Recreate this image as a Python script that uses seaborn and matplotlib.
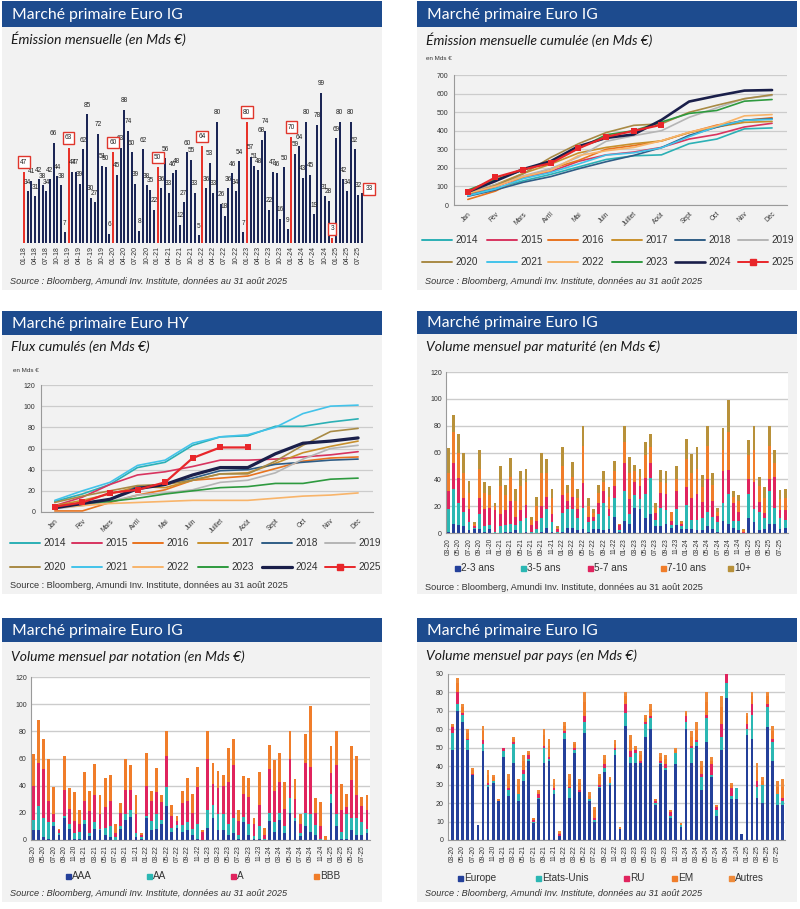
import numpy as np
import pandas as pd
import matplotlib
matplotlib.use("Agg")
import matplotlib.pyplot as plt
import seaborn as sns
from matplotlib.patches import Rectangle
from matplotlib.lines import Line2D

# ---------------- DATA ----------------
# Panel 1 : monthly Euro IG issuance Jan-2018 .. Aug-2025
ig_monthly = [47, 34, 41, 31, 42, 38, 34, 42, 66, 44, 38, 7,
              63, 47, 47, 39, 62, 85, 30, 27, 72, 51, 50, 6,
              60, 45, 63, 88, 74, 60, 39, 8, 62, 38, 35, 22,
              50, 36, 56, 33, 46, 48, 12, 27, 60, 55, 33, 5,
              64, 36, 53, 33, 80, 26, 18, 36, 46, 34, 54, 7,
              80, 57, 51, 48, 68, 74, 22, 47, 46, 16, 50, 9,
              70, 59, 64, 43, 80, 45, 19, 78, 99, 31, 28, 3,
              69, 80, 42, 34, 80, 62, 32, 33]
red_idx = [0, 12, 24, 36, 48, 60, 72, 83]
boxed_idx = [0, 12, 24, 36, 48, 60, 72, 83, 91]
p1_ticklabels = ['01-18', '04-18', '07-18', '10-18', '01-19', '04-19', '07-19', '10-19',
                 '01-20', '04-20', '07-20', '10-20', '01-21', '04-21', '07-21', '10-21',
                 '01-22', '04-22', '07-22', '10-22', '01-23', '04-23', '07-23', '10-23',
                 '01-24', '04-24', '07-24', '10-24', '01-25', '04-25', '07-25']

months_fr = ['Jan', 'Fév', 'Mars', 'Avril', 'Mai', 'Juin', 'Juillet', 'Août', 'Sept', 'Oct', 'Nov', 'Déc']
years = ['2014', '2015', '2016', '2017', '2018', '2019', '2020', '2021', '2022', '2023', '2024', '2025']

# Panel 2 : cumulated IG issuance
ig_cum = {
    '2014': [55, 90, 130, 165, 205, 245, 265, 270, 330, 355, 410, 415],
    '2015': [60, 100, 150, 180, 235, 270, 285, 310, 355, 380, 420, 440],
    '2016': [30, 75, 150, 195, 240, 300, 320, 345, 390, 430, 455, 470],
    '2017': [65, 110, 170, 220, 280, 310, 330, 345, 390, 420, 445, 450],
    '2018': [47, 81, 122, 153, 195, 233, 267, 309, 375, 419, 457, 464],
    '2019': [63, 110, 157, 196, 258, 343, 373, 400, 472, 523, 573, 590],
    '2020': [60, 105, 168, 256, 330, 390, 429, 437, 499, 537, 572, 594],
    '2021': [50, 86, 142, 175, 221, 269, 281, 308, 368, 423, 456, 461],
    '2022': [64, 100, 153, 186, 266, 292, 310, 346, 392, 426, 480, 487],
    '2023': [80, 137, 188, 236, 304, 378, 400, 447, 493, 509, 559, 568],
    '2024': [70, 129, 193, 236, 316, 361, 380, 458, 557, 588, 616, 619],
    '2025': [69, 149, 191, 225, 305, 367, 399, 432],
}

# Panel 3 : cumulated HY flows
hy_cum = {
    '2014': [10, 17, 26, 42, 47, 63, 71, 72, 81, 81, 85, 88],
    '2015': [6, 14, 26, 35, 38, 43, 49, 49, 50, 52, 54, 57],
    '2016': [1, 1, 9, 16, 21, 30, 32, 34, 41, 48, 51, 52],
    '2017': [6, 11, 17, 24, 23, 30, 36, 37, 46, 56, 62, 67],
    '2018': [4, 8, 12, 24, 26, 32, 39, 40, 45, 47, 49, 50],
    '2019': [3, 6, 10, 16, 18, 21, 28, 30, 37, 50, 60, 63],
    '2020': [9, 15, 20, 25, 26, 30, 36, 36, 48, 63, 76, 79],
    '2021': [11, 20, 28, 44, 49, 65, 71, 73, 80, 93, 100, 101],
    '2022': [4, 6, 8, 9, 10, 11, 11, 11, 13, 15, 16, 18],
    '2023': [5, 8, 10, 13, 17, 20, 23, 24, 27, 27, 31, 32],
    '2024': [4, 8, 12, 22, 26, 35, 42, 42, 55, 65, 67, 70],
    '2025': [5, 9, 18, 21, 28, 51, 61, 61],
}

p456_ticklabels = ['03-20', '05-20', '07-20', '09-20', '11-20',
                   '01-21', '03-21', '05-21', '07-21', '09-21', '11-21',
                   '01-22', '03-22', '05-22', '07-22', '09-22', '11-22',
                   '01-23', '03-23', '05-23', '07-23', '09-23', '11-23',
                   '01-24', '03-24', '05-24', '07-24', '09-24', '11-24',
                   '01-25', '03-25', '05-25', '07-25']

# Panel 4 : by maturity (Mar-2020 .. Aug-2025)
mat_2_3 = [1, 7, 6, 5, 2, 3, 3, 1, 3, 0, 0, 1, 1, 2, 0, 1, 0, 0, 1, 4, 1, 0,
           1, 4, 4, 2, 3, 1, 3, 3, 2, 3, 12, 1, 9, 7, 19, 18, 11, 14, 5, 5, 7, 4, 6, 3,
           3, 3, 2, 2, 5, 3, 1, 9, 7, 4, 2, 0, 11, 8, 2, 3, 7, 7, 3, 4]
mat_3_5 = [17, 26, 16, 11, 6, 1, 11, 4, 3, 1, 5, 5, 6, 4, 9, 10, 1, 3, 10, 14, 7, 1,
           14, 14, 14, 9, 16, 7, 6, 11, 20, 10, 14, 1, 22, 7, 9, 7, 18, 27, 5, 14, 10, 2, 12, 2,
           18, 7, 8, 9, 11, 9, 7, 13, 22, 5, 7, 0, 18, 10, 14, 8, 24, 12, 8, 6]
mat_5_7 = [13, 19, 19, 10, 10, 1, 12, 13, 13, 16, 9, 11, 17, 6, 8, 10, 5, 6, 9, 9, 6, 2,
           13, 6, 9, 7, 18, 4, 3, 8, 9, 5, 9, 4, 21, 11, 10, 10, 12, 11, 5, 11, 12, 3, 13, 2,
           13, 16, 19, 12, 24, 12, 5, 24, 18, 13, 7, 1, 11, 20, 7, 4, 9, 23, 6, 7]
mat_7_10 = [14, 23, 19, 19, 12, 2, 22, 12, 9, 3, 21, 11, 18, 12, 18, 17, 4, 11, 25, 18, 12, 1,
            22, 6, 15, 8, 28, 8, 3, 8, 7, 9, 11, 1, 16, 20, 8, 7, 17, 12, 4, 8, 8, 7, 9, 1,
            21, 19, 19, 11, 25, 12, 3, 16, 28, 5, 8, 1, 18, 24, 12, 11, 25, 10, 8, 9]
mat_10p = [18, 13, 14, 15, 9, 1, 14, 8, 7, 2, 15, 8, 14, 9, 11, 10, 2, 7, 15, 10, 7, 1,
           14, 6, 11, 7, 15, 6, 3, 6, 8, 7, 8, 0, 12, 12, 5, 6, 10, 10, 3, 9, 9, 0, 10, 1,
           15, 14, 16, 9, 15, 9, 3, 16, 24, 4, 4, 1, 11, 18, 7, 8, 15, 10, 7, 7]

# Panel 5 : by rating
rt_aaa = [7, 7, 2, 1, 10, 4, 16, 8, 1, 1, 12, 3, 8, 7, 4, 2, 0, 8, 15, 17, 2, 1,
          16, 7, 8, 12, 25, 6, 9, 6, 7, 4, 1, 0, 9, 16, 7, 7, 4, 5, 1, 13, 4, 1, 1, 0,
          14, 6, 15, 5, 20, 14, 3, 10, 6, 4, 0, 0, 27, 10, 1, 1, 7, 4, 4, 5]
rt_aa = [8, 18, 14, 12, 3, 1, 2, 4, 4, 5, 3, 2, 5, 1, 5, 8, 2, 2, 4, 5, 3, 1,
         2, 7, 11, 3, 14, 3, 2, 5, 6, 4, 11, 0, 13, 10, 12, 12, 8, 11, 3, 4, 8, 2, 9, 1,
         6, 7, 5, 5, 11, 2, 2, 10, 13, 7, 1, 0, 7, 9, 5, 18, 9, 12, 9, 3]
rt_a = [25, 32, 36, 16, 6, 2, 19, 11, 9, 6, 14, 16, 20, 11, 15, 19, 3, 10, 18, 15, 14, 2,
        22, 15, 16, 13, 23, 9, 3, 16, 16, 12, 27, 6, 38, 15, 19, 21, 31, 39, 10, 17, 20, 9, 16, 3,
        32, 23, 23, 13, 29, 14, 7, 37, 35, 9, 9, 0, 15, 36, 16, 5, 28, 17, 12, 14]
rt_bbb = [23, 31, 22, 31, 20, 1, 25, 15, 21, 10, 21, 15, 23, 14, 22, 19, 7, 7, 23, 18, 14, 1,
          24, 7, 18, 5, 18, 8, 4, 9, 17, 14, 15, 1, 20, 16, 13, 8, 25, 19, 8, 13, 14, 4, 24, 5,
          18, 23, 21, 20, 20, 15, 7, 21, 45, 11, 18, 3, 20, 25, 19, 10, 25, 29, 7, 11]

# Panel 6 : by country
ct_europe = [49, 70, 64, 49, 35, 8, 48, 29, 31, 21, 45, 24, 42, 21, 32, 43, 9, 22, 42, 43, 25, 2,
             55, 23, 47, 26, 58, 21, 10, 28, 37, 30, 46, 6, 62, 42, 42, 42, 56, 60, 19, 41, 38, 12, 41, 7,
             60, 42, 51, 27, 53, 34, 13, 49, 77, 22, 22, 3, 57, 55, 23, 20, 61, 43, 19, 19]
ct_us = [9, 4, 4, 5, 0, 0, 4, 1, 1, 0, 3, 3, 10, 4, 4, 1, 1, 1, 8, 1, 2, 0,
         3, 5, 2, 0, 6, 1, 1, 1, 2, 1, 3, 0, 7, 3, 5, 0, 7, 6, 1, 1, 1, 1, 6, 1,
         4, 8, 2, 7, 13, 1, 3, 7, 8, 2, 6, 0, 3, 13, 6, 10, 11, 10, 6, 2]
ct_ru = [3, 6, 1, 1, 1, 0, 2, 1, 0, 0, 2, 1, 1, 0, 2, 2, 1, 2, 1, 1, 1, 1,
         1, 1, 1, 1, 3, 0, 1, 1, 2, 0, 1, 0, 5, 3, 2, 1, 1, 1, 1, 1, 2, 2, 0, 0,
         3, 1, 1, 2, 2, 6, 2, 7, 5, 4, 0, 0, 3, 6, 3, 0, 2, 2, 0, 2]
ct_em = [1, 5, 3, 3, 2, 0, 5, 4, 2, 1, 0, 5, 2, 5, 5, 1, 1, 1, 6, 6, 3, 1,
         3, 4, 2, 4, 8, 2, 4, 4, 3, 2, 2, 1, 4, 6, 1, 3, 2, 4, 1, 2, 3, 1, 2, 1,
         2, 5, 6, 4, 7, 2, 1, 9, 5, 2, 0, 0, 4, 4, 6, 2, 4, 4, 4, 6]
ct_autres = [1, 3, 2, 2, 1, 0, 3, 3, 1, 0, 0, 3, 1, 3, 3, 1, 0, 1, 3, 4, 2, 1,
             2, 3, 1, 2, 5, 2, 2, 2, 2, 1, 2, 0, 2, 3, 1, 2, 2, 3, 0, 2, 2, 0, 1, 0,
             1, 3, 4, 3, 5, 2, 0, 6, 4, 1, 0, 0, 2, 2, 4, 2, 2, 3, 3, 4]

# ---------------- STYLE ----------------
sns.set_theme(style="white")
plt.rcParams['font.family'] = ['Liberation Sans', 'DejaVu Sans']

HEADER = '#1d4b8e'
PANEL = '#f2f2f2'
NAVY = '#1c2655'
RED = '#e8332a'
GRID = '#cccccc'
AXC = '#9a9a9a'
TXT = '#333333'
year_colors = {'2014': '#2bb0b5', '2015': '#d8345f', '2016': '#e8731f', '2017': '#c8902c',
               '2018': '#2f5d86', '2019': '#b5b5b5', '2020': '#a88a45', '2021': '#43c3ea',
               '2022': '#f8b46a', '2023': '#2e9a3f', '2024': '#1a1f4a', '2025': '#e8262a'}

W, H = 800, 909
fig = plt.figure(figsize=(8, 9.09), dpi=100)
fig.patch.set_facecolor('white')


def fx(x):
    return x / W


def fy(y):
    return 1 - y / H


def rect(x0, y0, x1, y1, color):
    fig.add_artist(Rectangle((fx(x0), fy(y1)), (x1 - x0) / W, (y1 - y0) / H,
                             transform=fig.transFigure, facecolor=color,
                             edgecolor='none', zorder=-5))


def axes(x0, y0, x1, y1):
    return fig.add_axes([fx(x0), fy(y1), (x1 - x0) / W, (y1 - y0) / H])


def text(x, y, s, **kw):
    fig.text(fx(x), fy(y), s, **kw)


def panel(x0, hy0, hy1, y1, header, title, title_y, source_y, src_italic=True):
    x1 = x0 + 380
    rect(x0, hy0, x1, hy1, HEADER)
    rect(x0, hy1, x1, y1, PANEL)
    text(x0 + 10, (hy0 + hy1) / 2 + 1, header, color='white', fontsize=11.3,
         family=['Lato', 'DejaVu Sans'], va='center', ha='left')
    text(x0 + 9, title_y, title, color='#1a1a1a', fontsize=10, style='italic',
         family=['Lato', 'DejaVu Sans'], va='center', ha='left')
    text(x0 + 8, source_y, 'Source : Bloomberg, Amundi Inv. Institute, données au 31 août 2025',
         color=TXT, fontsize=6.55, style='italic' if src_italic else 'normal',
         va='center', ha='left')


panel(2, 1, 27, 290, 'Marché primaire Euro IG', 'Émission mensuelle (en Mds €)', 39, 282)
panel(417, 1, 27, 290, 'Marché primaire Euro IG', 'Émission mensuelle cumulée (en Mds €)', 40, 281)
panel(2, 311, 335, 594, 'Marché primaire Euro HY', 'Flux cumulés (en Mds €)', 347, 586, False)
panel(417, 311, 334, 594, 'Marché primaire Euro IG', 'Volume mensuel par maturité (en Mds €)', 347, 587, False)
panel(2, 618, 642, 902, 'Marché primaire Euro IG', 'Volume mensuel par notation (en Mds €)', 657, 893)
panel(417, 618, 642, 902, 'Marché primaire Euro IG', 'Volume mensuel par pays (en Mds €)', 656, 893)

# ---------------- PANEL 1 ----------------
ax1 = axes(14, 60, 372, 243)
ax1.set_facecolor('none')
n1 = len(ig_monthly)
df1 = pd.DataFrame({'i': list(range(n1)), 'v': ig_monthly,
                    'h': ['r' if i in red_idx else 'n' for i in range(n1)]})
sns.barplot(data=df1, x='i', y='v', hue='h', palette={'n': NAVY, 'r': RED}, dodge=False,
            width=0.55, saturation=1, legend=False, ax=ax1, linewidth=0)
ax1.set_xlim(-2.69, 93.69)
ax1.set_ylim(0, 120.8)
for i, v in enumerate(ig_monthly):
    kw = dict(ha='center', va='center', fontsize=4.7, color='#222222', textcoords='offset points')
    if i in boxed_idx:
        off = (5, 3) if i == n1 - 1 else (0, 7)
        ax1.annotate(str(v), (i, v), xytext=off, zorder=5,
                     bbox=dict(boxstyle='square,pad=0.35', fc='white', ec='#e0362c', lw=1.0), **kw)
    else:
        ax1.annotate(str(v), (i, v), xytext=(0, 6.5), **kw)
ax1.set_xticks(list(range(0, n1, 3)))
ax1.set_xticklabels(p1_ticklabels, rotation=90, fontsize=5, color=TXT)
ax1.set_yticks([])
ax1.set_xlabel('')
ax1.set_ylabel('')
ax1.tick_params(axis='x', length=0, pad=2)
for s in ax1.spines.values():
    s.set_visible(False)


# ---------------- LINE PANELS ----------------
def line_panel(ax, data, ymax, ystep, lw24):
    ax.set_facecolor('none')
    for y in years:
        vals = data[y]
        lw = 1.2
        if y == '2024':
            lw = lw24
        kw = {}
        if y == '2025':
            lw = 1.6
            kw = dict(marker='s', markersize=4.5, markeredgewidth=0)
        sns.lineplot(x=list(range(len(vals))), y=vals, color=year_colors[y], linewidth=lw,
                     ax=ax, **kw)
    ax.set_xlim(-0.47, 11.54)
    ax.set_ylim(0, ymax)
    ax.set_yticks(np.arange(0, ymax + 1, ystep))
    ax.set_yticklabels([str(int(t)) for t in np.arange(0, ymax + 1, ystep)], fontsize=5, color=TXT)
    ax.set_xticks(list(range(12)))
    ax.set_xticklabels(months_fr, rotation=45, ha='right', rotation_mode='anchor',
                       fontsize=4.8, color=TXT)
    ax.set_xticks(np.arange(-0.5, 12, 1), minor=True)
    ax.tick_params(axis='x', which='major', length=0, pad=4)
    ax.tick_params(axis='x', which='minor', length=3, color=AXC, width=0.6)
    ax.tick_params(axis='y', length=2, color=AXC, width=0.6, pad=2)
    ax.yaxis.grid(True, color=GRID, linewidth=0.9)
    ax.set_axisbelow(True)
    for s in ['top', 'right']:
        ax.spines[s].set_visible(False)
    for s in ['left', 'bottom']:
        ax.spines[s].set_color(AXC)
        ax.spines[s].set_linewidth(0.8)
    ax.set_xlabel('')
    ax.set_ylabel('')


def line_legend(xs, rows_y, lw24):
    for k, y in enumerate(years):
        x = xs[k % 6]
        yy = rows_y[k // 6]
        lw = lw24 if y == '2024' else 1.4
        fig.add_artist(Line2D([fx(x), fx(x + 30)], [fy(yy), fy(yy)], transform=fig.transFigure,
                              color=year_colors[y], lw=lw))
        if y == '2025':
            fig.add_artist(Line2D([fx(x + 15)], [fy(yy)], transform=fig.transFigure,
                                  color=year_colors[y], marker='s', markersize=4.5, lw=0))
        text(x + 33, yy, y, fontsize=7.2, color=TXT, va='center', ha='left')


ax2 = axes(454, 75, 787, 205)
line_panel(ax2, ig_cum, 700, 100, 1.9)
text(426, 59, 'en Mds €', fontsize=4.5, color=TXT, va='center')
line_legend([422, 487, 548, 612, 675, 738], [240, 262], 1.9)

ax3 = axes(41, 385, 373, 512)
line_panel(ax3, hy_cum, 120, 20, 2.3)
text(13, 370, 'en Mds €', fontsize=4.5, color=TXT, va='center')
line_legend([10, 72, 133, 198, 262, 325], [543, 567], 2.3)


# ---------------- STACKED PANELS ----------------
def stacked(ax, layers, colors, ymax, ystep, xlim):
    ax.set_facecolor('white')
    n = len(layers[0])
    cum = np.cumsum(np.array(layers), axis=0)
    for k in range(len(layers) - 1, -1, -1):
        sns.barplot(x=list(range(n)), y=cum[k], color=colors[k], width=0.55, saturation=1,
                    ax=ax, linewidth=0)
    ax.set_xlim(*xlim)
    ax.set_ylim(0, ymax)
    ticks = np.arange(0, ymax + 1, ystep)
    ax.set_yticks(ticks)
    ax.set_yticklabels([str(int(t)) for t in ticks], fontsize=5, color=TXT)
    ax.set_xticks(list(range(0, n, 2)))
    ax.set_xticklabels(p456_ticklabels, rotation=90, fontsize=4.8, color=TXT)
    ax.tick_params(axis='x', length=2, color=AXC, width=0.6, pad=1.5)
    ax.tick_params(axis='y', length=0, pad=3)
    ax.yaxis.grid(True, color=GRID, linewidth=1.0)
    ax.set_axisbelow(True)
    for s in ['top', 'right']:
        ax.spines[s].set_visible(False)
    for s in ['left', 'bottom']:
        ax.spines[s].set_color(AXC)
        ax.spines[s].set_linewidth(0.8)
    ax.set_xlabel('')
    ax.set_ylabel('')


def square_legend(items, y):
    for x, lab, col in items:
        fig.add_artist(Line2D([fx(x)], [fy(y)], transform=fig.transFigure, color=col,
                              marker='s', markersize=3.6, lw=0))
        text(x + 4, y, lab, fontsize=7.2, color=TXT, va='center', ha='left')


C_NAVY = '#24409a'
C_TEAL = '#2bb7b3'
C_CRIM = '#e0245e'
C_ORNG = '#f07d2a'
C_GOLD = '#b8913a'

ax4 = axes(446, 372, 788, 533)
stacked(ax4, [mat_2_3, mat_3_5, mat_5_7, mat_7_10, mat_10p],
        [C_NAVY, C_TEAL, C_CRIM, C_ORNG, C_GOLD], 120, 20, (-0.45, 65.55))
square_legend([(457, '2-3 ans', C_NAVY), (523, '3-5 ans', C_TEAL), (590, '5-7 ans', C_CRIM),
               (663, '7-10 ans', C_ORNG), (730, '10+', C_GOLD)], 568)

ax5 = axes(31, 677, 370, 840)
stacked(ax5, [rt_aaa, rt_aa, rt_a, rt_bbb], [C_NAVY, C_TEAL, C_CRIM, C_ORNG], 120, 20, (-0.45, 65.6))
square_legend([(68, 'AAA', C_NAVY), (149, 'AA', C_TEAL), (233, 'A', C_CRIM), (316, 'BBB', C_ORNG)], 876)

ax6 = axes(448, 674, 785, 840)
stacked(ax6, [ct_europe, ct_us, ct_ru, ct_em, ct_autres],
        [C_NAVY, C_TEAL, C_CRIM, C_ORNG, '#ee8a3a'], 90, 10, (-0.9, 65.5))
square_legend([(460, 'Europe', C_NAVY), (538, 'Etats-Unis', C_TEAL), (626, 'RU', C_CRIM),
               (674, 'EM', C_ORNG), (731, 'Autres', '#ee8a3a')], 878)

fig.savefig('out.png', dpi=100, facecolor='white')
